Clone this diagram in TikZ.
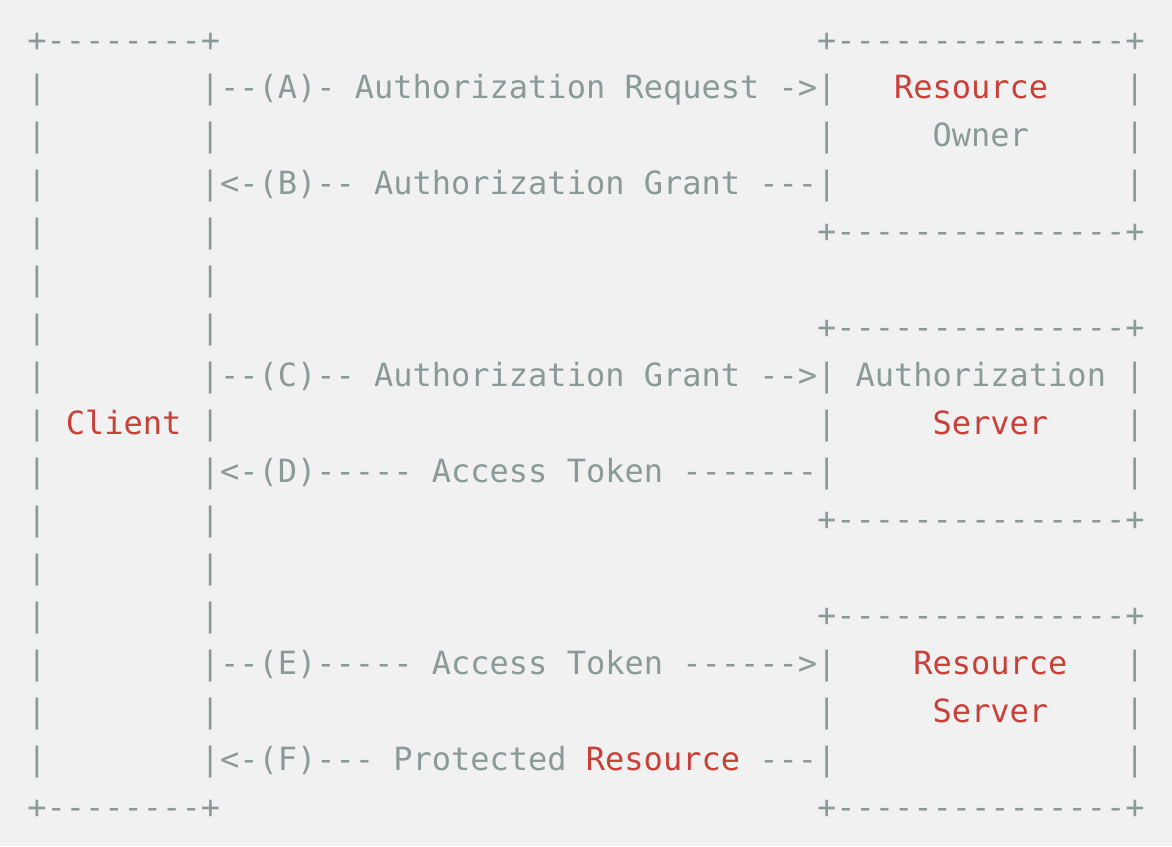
\documentclass[tikz,border=0pt]{standalone}
\usepackage{fontspec}
\setmonofont{DejaVu Sans Mono}
\definecolor{asciigray}{RGB}{138,154,153}
\definecolor{keyred}{RGB}{201,64,56}
\definecolor{pagebg}{RGB}{241,241,241}
% column / row of a character cell
\newcommand{\cx}[1]{27.4+19.26*(#1)}
\newcommand{\ry}[1]{51+47.94*(#1)}
\tikzset{
  ascii/.style={anchor=base west, inner sep=0pt, outer sep=0pt, text=asciigray,
    font=\ttfamily\fontsize{16}{16}\selectfont},
  key/.style={ascii, text=keyred}
}
\begin{document}
\begin{tikzpicture}[x=0.5pt, y=-0.5pt]
\fill[pagebg] (0,0) rectangle (1172,846);
\useasboundingbox (0,0) rectangle (1172,846);
%--- Client ---
\node[ascii] (cl-top) at ({\cx{0}},{\ry{0}}) {+--------+};
\node[ascii] (cl-bot) at ({\cx{0}},{\ry{16}}) {+--------+};
\foreach \r in {1,...,15} {
  \node[ascii] (cl-l\r) at ({\cx{0}},{\ry{\r}}) {|};
  \node[ascii] (cl-r\r) at ({\cx{9}},{\ry{\r}}) {|};
}
\node[key] (client) at ({\cx{2}},{\ry{8}}) {Client};
%--- right boxes ---
\foreach \t/\nm in {0/owner,6/authsrv,12/ressrv} {
  \node[ascii] (\nm-top) at ({\cx{41}},{\ry{\t}}) {+---------------+};
  \node[ascii] (\nm-bot) at ({\cx{41}},{\ry{\t+4}}) {+---------------+};
  \foreach \k in {1,2,3} {
    \node[ascii] (\nm-l\k) at ({\cx{41}},{\ry{\t+\k}}) {|};
    \node[ascii] (\nm-r\k) at ({\cx{57}},{\ry{\t+\k}}) {|};
  }
}
\node[key] (owner-name) at ({\cx{45}},{\ry{1}}) {Resource};
\node[ascii] (owner-sub) at ({\cx{47}},{\ry{2}}) {Owner};
\node[ascii] (authsrv-name) at ({\cx{43}},{\ry{7}}) {Authorization};
\node[key] (authsrv-sub) at ({\cx{47}},{\ry{8}}) {Server};
\node[key] (ressrv-name) at ({\cx{46}},{\ry{13}}) {Resource};
\node[key] (ressrv-sub) at ({\cx{47}},{\ry{14}}) {Server};
%--- flows A..F ---
\node[ascii] (stepA) at ({\cx{10}},{\ry{1}}) {--(A)- Authorization Request ->};
\node[ascii] (stepB) at ({\cx{10}},{\ry{3}}) {<-(B)-- Authorization Grant ---};
\node[ascii] (stepC) at ({\cx{10}},{\ry{7}}) {--(C)-- Authorization Grant -->};
\node[ascii] (stepD) at ({\cx{10}},{\ry{9}}) {<-(D)----- Access Token -------};
\node[ascii] (stepE) at ({\cx{10}},{\ry{13}}) {--(E)----- Access Token ------>};
\node[ascii] (stepF) at ({\cx{10}},{\ry{15}}) {<-(F)--- Protected};
\node[key] (stepF-res) at ({\cx{29}},{\ry{15}}) {Resource};
\node[ascii] (stepF-end) at ({\cx{38}},{\ry{15}}) {---};
\end{tikzpicture}
\end{document}
